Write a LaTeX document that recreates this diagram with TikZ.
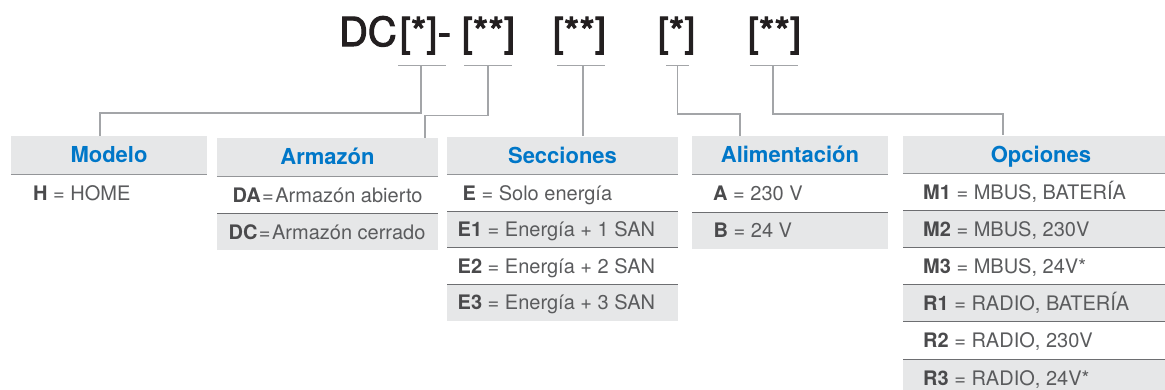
\documentclass[tikz,border=0pt]{standalone}
\usepackage{fontspec}
\setmainfont{TeX Gyre Heros}
\newfontfamily\titlefont{TeX Gyre Heros}[FakeBold=2.5]
\definecolor{hdrgray}{HTML}{E6E7E8}
\definecolor{rowgray}{HTML}{E6E7E8}
\definecolor{hdrblue}{HTML}{0077C8}
\definecolor{txtgray}{HTML}{5A5B5D}
\definecolor{boldgray}{HTML}{4A4A4C}
\definecolor{sepline}{HTML}{6D6E71}
\definecolor{hdrline}{HTML}{939598}
\definecolor{connline}{HTML}{A3A5A8}
\definecolor{titlecol}{HTML}{231F20}
\newcommand\bk[1]{\textcolor{boldgray}{\textbf{#1}}}
\begin{document}
\begin{tikzpicture}[x=1pt,y=-1pt,
  ttl/.style={inner sep=0pt, anchor=base west, text=titlecol, font=\titlefont\fontsize{40}{44}\selectfont},
  hdr/.style={fill=hdrgray, inner sep=0pt, text=hdrblue, font=\bfseries\fontsize{22}{26}\selectfont, text height=15.8pt, text depth=0pt, minimum height=38pt},
  cell/.style={inner sep=0pt, anchor=base west, text=txtgray, font=\fontsize{20}{24}\selectfont},
  ccell/.style={cell, anchor=base},
  conn/.style={draw=connline, line width=1.2pt},
  uline/.style={draw=connline, line width=1pt},
  hline/.style={draw=hdrline, line width=1.2pt},
  sline/.style={draw=sepline, line width=1pt}]
\useasboundingbox (0,0) rectangle (1165,389);

% title
\node[ttl] (t1) at (338.8,46) {DC};
\node[ttl] (t2) at (399.5,46) {[*]};
\node[ttl] (t3) at (437.5,46) {-};
\node[ttl] (t4) at (461.5,46) {[**]};
\node[ttl] (t5) at (552.5,46) {[**]};
\node[ttl] (t6) at (657.5,46) {[*]};
\node[ttl] (t7) at (747.5,46) {[**]};

% underlines
\coordinate (u1a) at (398,65.5); \coordinate (u1b) at (446,65.5); \coordinate (u1) at (421,65.5);
\coordinate (u2a) at (464,65.5); \coordinate (u2b) at (512,65.5); \coordinate (u2) at (488,65.5);
\coordinate (u3a) at (557,65.5); \coordinate (u3b) at (605,65.5); \coordinate (u3) at (583,65.5);
\coordinate (u4a) at (666,65.5); \coordinate (u4b) at (689,65.5); \coordinate (u4) at (677.5,65.5);
\coordinate (u5a) at (750,65.5); \coordinate (u5b) at (798,65.5); \coordinate (u5) at (773,65.5);
\draw[uline] (u1a) -- (u1b);
\draw[uline] (u2a) -- (u2b);
\draw[uline] (u3a) -- (u3b);
\draw[uline] (u4a) -- (u4b);
\draw[uline] (u5a) -- (u5b);

% headers
\node[hdr, minimum width=196pt] (modelo) at (109,155) {Modelo};
\node[hdr, minimum width=221pt] (armazon) at (327.5,157) {Armazón};
\node[hdr, minimum width=231pt] (secciones) at (562.5,155.5) {Secciones};
\node[hdr, minimum width=196pt] (alim) at (790,155) {Alimentación};
\node[hdr, minimum width=276pt] (opciones) at (1041,154.5) {Opciones};
\foreach \h in {modelo,armazon,secciones,alim,opciones}
  \draw[hline] (\h.south west) -- (\h.south east);

% connectors
\coordinate (k1) at (100,113);
\coordinate (k2) at (425,115.5);
\coordinate (k4) at (740,114);
\coordinate (k5) at (1003,114);
\draw[conn] (u1) |- (k1) -- (k1 |- modelo.north);
\draw[conn] (u2) |- (k2) -- (k2 |- armazon.north);
\draw[conn] (u3) -- (u3 |- secciones.north);
\draw[conn] (u4) |- (k4) -- (k4 |- alim.north);
\draw[conn] (u5) |- (k5) -- (k5 |- opciones.north);

% Modelo
\node[cell] (m1) at (33,200.7) {\bk{H} = HOME};

% Armazon
\fill[rowgray] (217,213) rectangle (438,250);
\draw[sline] (217,213) -- (438,213);
\node[ccell] (a1) at (327.5,202) {\bk{DA}\hspace{1.5pt}=\hspace{1.5pt}Armazón abierto};
\node[ccell] (a2) at (327,239) {\bk{DC}\hspace{1.5pt}=\hspace{1.5pt}Armazón cerrado};

% Secciones
\fill[rowgray] (447,211) rectangle (678,247.5);
\fill[rowgray] (447,284) rectangle (678,320.5);
\draw[sline] (447,211) -- (678,211);
\draw[sline] (447,247.5) -- (678,247.5);
\draw[sline] (447,284) -- (678,284);
\node[cell] (s1) at (462.5,200) {\bk{E} = Solo energía};
\node[cell] (s2) at (457.5,236.5) {\bk{E1} = Energía + 1 SAN};
\node[cell] (s3) at (457.5,273) {\bk{E2} = Energía + 2 SAN};
\node[cell] (s4) at (457.5,309.5) {\bk{E3} = Energía + 3 SAN};

% Alimentacion
\fill[rowgray] (692,212) rectangle (888,249);
\draw[sline] (692,212) -- (888,212);
\node[cell] (p1) at (713,200.3) {\bk{A} = 230 V};
\node[cell] (p2) at (713.5,237.8) {\bk{B} = 24 V};

% Opciones
\fill[rowgray] (903,210.2) rectangle (1179,247.4);
\fill[rowgray] (903,284.6) rectangle (1179,321.8);
\fill[rowgray] (903,359) rectangle (1179,396);
\foreach \yy in {210.2,247.4,284.6,321.8,359}
  \draw[sline] (903,\yy) -- (1179,\yy);
\node[cell] (o1) at (923,199) {\bk{M1} = MBUS, BATERÍA};
\node[cell] (o2) at (923,236.2) {\bk{M2} = MBUS, 230V};
\node[cell] (o3) at (923,273.4) {\bk{M3} = MBUS, 24V*};
\node[cell] (o4) at (923,310.6) {\bk{R1} = RADIO, BATERÍA};
\node[cell] (o5) at (923,347.8) {\bk{R2} = RADIO, 230V};
\node[cell] (o6) at (923,385) {\bk{R3} = RADIO, 24V*};
\end{tikzpicture}
\end{document}
